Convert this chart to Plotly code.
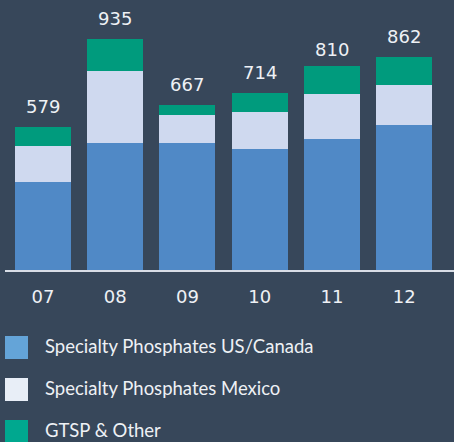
import plotly.graph_objects as go

years = ["07", "08", "09", "10", "11", "12"]
us_canada = [356, 513, 513, 489, 529, 586]
mexico = [145, 291, 113, 149, 182, 162]
gtsp_other = [78, 131, 41, 76, 113, 114]
totals = [579, 935, 667, 714, 810, 862]
series_names = ["Specialty Phosphates US/Canada", "Specialty Phosphates Mexico", "GTSP & Other"]

W, H = 454, 442
BG = "#37475a"
bar_colors = ["#5089c6", "#cfd9ef", "#009b7d"]
legend_colors = ["#64a4d8", "#e8eef7", "#00a88f"]

fig = go.Figure()
for name, vals, col in zip(series_names, [us_canada, mexico, gtsp_other], bar_colors):
    fig.add_trace(go.Bar(x=list(range(len(years))), y=vals, name=name, marker=dict(color=col, line=dict(width=0)),
                         width=0.776, showlegend=False, hoverinfo="skip"))

for i, t in enumerate(totals):
    fig.add_annotation(x=i, y=t, text=str(t), showarrow=False, yanchor="bottom", yshift=8,
                       font=dict(family="DejaVu Sans", size=18, color="#eef1f5"), xref="x", yref="y")

shapes = []
for k, (name, col) in enumerate(zip(series_names, legend_colors)):
    top = 336 + 42 * k
    shapes.append(dict(type="rect", xref="paper", yref="paper", x0=5 / W, x1=28 / W,
                       y0=1 - (top + 23) / H, y1=1 - top / H, fillcolor=col, line=dict(width=0)))
    fig.add_annotation(x=43 / W, y=1 - (top + 10) / H, xref="paper", yref="paper", text=name,
                       showarrow=False, xanchor="left", yanchor="middle",
                       font=dict(family="Lato", size=18.5, color="#eef1f5"))

fig.update_layout(
    width=W, height=H, margin=dict(l=0, r=0, t=0, b=0),
    paper_bgcolor=BG, plot_bgcolor=BG, barmode="stack", showlegend=False,
    shapes=shapes,
    xaxis=dict(domain=[5 / W, 1], range=[-0.526, 5.69], tickmode="array", tickvals=list(range(len(years))),
               ticktext=years, showgrid=False, zeroline=False, showline=True, linecolor="#d8dde6", linewidth=2,
               ticks="outside", ticklen=9, tickcolor=BG,
               tickfont=dict(family="DejaVu Sans", size=18, color="#eef1f5")),
    yaxis=dict(domain=[172 / H, 1], range=[0, 1091], visible=False, showgrid=False, zeroline=False),
)

fig.write_html("out.html", config={"displayModeBar": False},
               post_script="document.body.style.margin='0';document.body.style.overflow='hidden';")
